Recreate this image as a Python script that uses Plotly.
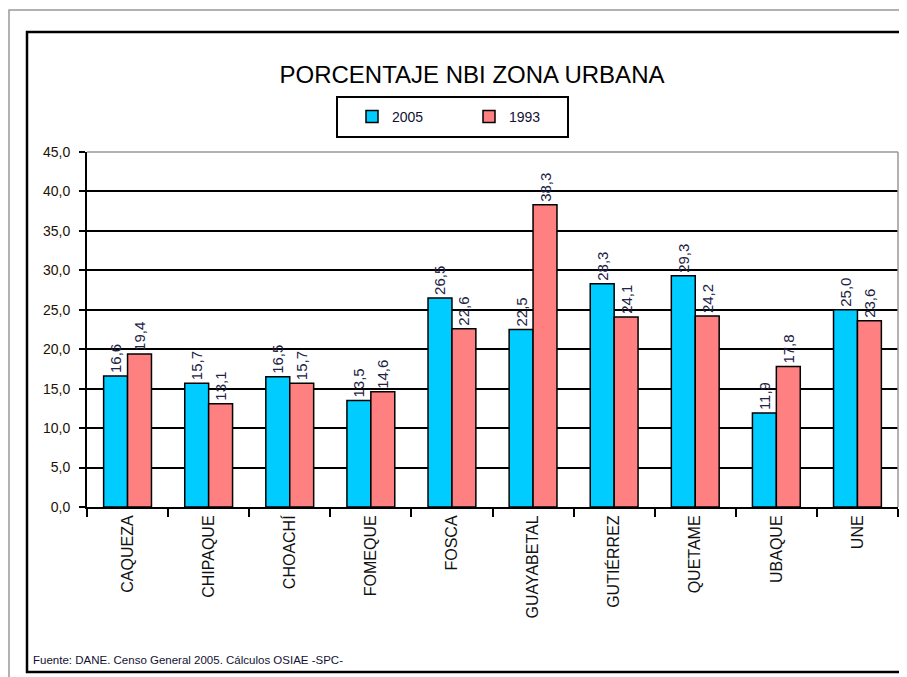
import plotly.graph_objects as go

categories = ["CAQUEZA", "CHIPAQUE", "CHOACHÍ", "FOMEQUE", "FOSCA",
              "GUAYABETAL", "GUTIÉRREZ", "QUETAME", "UBAQUE", "UNE"]
values_2005 = [16.6, 15.7, 16.5, 13.5, 26.5, 22.5, 28.3, 29.3, 11.9, 25.0]
values_1993 = [19.4, 13.1, 15.7, 14.6, 22.6, 38.3, 24.1, 24.2, 17.8, 23.6]
y_ticks = [0, 5, 10, 15, 20, 25, 30, 35, 40, 45]
y_tick_labels = ["0,0", "5,0", "10,0", "15,0", "20,0", "25,0", "30,0", "35,0", "40,0", "45,0"]

W, H = 907, 677
OFF = 8  # page body margin offset
L, R, T, B = 87 - OFF, 898 - OFF, 152 - OFF, 507 - OFF


def px(x):
    return (x - OFF - L) / (R - L)


def py(y):
    return (B - (y - OFF)) / (B - T)


def fmt(v):
    return f"{v:.1f}".replace(".", ",")


FONT = "Liberation Sans, Arial, sans-serif"

fig = go.Figure()
fig.add_trace(go.Bar(
    name="2005", x=categories, y=values_2005,
    marker=dict(color="#00CCFF", line=dict(color="black", width=1.5)),
    text=[fmt(v) for v in values_2005], textposition="outside",
    textangle=-90, textfont=dict(size=15, color="#222244", family=FONT),
    constraintext="none", cliponaxis=False,
))
fig.add_trace(go.Bar(
    name="1993", x=categories, y=values_1993,
    marker=dict(color="#FF8080", line=dict(color="black", width=1.5)),
    text=[fmt(v) for v in values_1993], textposition="outside",
    textangle=-90, textfont=dict(size=15, color="#222244", family=FONT),
    constraintext="none", cliponaxis=False,
))

shapes = [
    # outer light frame
    dict(type="rect", xref="paper", yref="paper",
         x0=px(9), x1=px(940), y0=py(10), y1=py(720),
         line=dict(color="#999999", width=1.5), layer="below"),
    # inner black frame
    dict(type="rect", xref="paper", yref="paper",
         x0=px(27), x1=px(940), y0=py(32), y1=py(672),
         line=dict(color="black", width=2.5), layer="below"),
    # legend box
    dict(type="rect", xref="paper", yref="paper",
         x0=px(337), x1=px(568), y0=py(97), y1=py(137),
         line=dict(color="black", width=2), fillcolor="white", layer="below"),
    # plot area top/right border
    dict(type="line", xref="paper", yref="paper", x0=1, x1=1, y0=0, y1=1,
         line=dict(color="#999999", width=1.5)),
    dict(type="line", xref="paper", yref="paper", x0=0, x1=1, y0=1, y1=1,
         line=dict(color="#999999", width=1.5)),
]

fig.update_layout(
    width=W, height=H,
    margin=dict(l=L, r=W - R, t=T, b=H - B),
    paper_bgcolor="white", plot_bgcolor="white",
    barmode="group", bargap=0.41, bargroupgap=0.0,
    font=dict(family=FONT, color="black"),
    title=dict(text="PORCENTAJE NBI ZONA URBANA", xref="paper", x=px(472), xanchor="center",
               yref="container", y=1 - (75 - OFF) / H, yanchor="middle",
               font=dict(size=24, color="black", family=FONT)),
    showlegend=True,
    legend=dict(orientation="h", x=px(352), xanchor="left", y=py(117), yanchor="middle",
                borderwidth=0, bgcolor="rgba(0,0,0,0)",
                font=dict(size=14, family=FONT, color="#111133"),
                entrywidth=72, itemwidth=30, traceorder="normal"),
    shapes=shapes,
    annotations=[dict(text="Fuente: DANE. Censo General 2005. Cálculos OSIAE -SPC-",
                      xref="paper", yref="paper", x=px(31), y=py(660),
                      xanchor="left", yanchor="middle", showarrow=False,
                      font=dict(size=11.5, family=FONT, color="#111133"))],
)
fig.update_yaxes(range=[0, 45], tickvals=y_ticks, ticktext=y_tick_labels,
                 showgrid=True, gridcolor="black", gridwidth=2,
                 showline=True, linecolor="black", linewidth=2,
                 ticks="outside", ticklen=6, tickcolor="black", tickwidth=2,
                 ticklabelstandoff=6,
                 tickfont=dict(size=14, family=FONT, color="#221100"),
                 zeroline=False, fixedrange=True)
fig.update_xaxes(tickangle=-90, tickson="boundaries", ticks="outside", ticklen=8,
                 tickcolor="black", tickwidth=2,
                 showline=True, linecolor="black", linewidth=2,
                 tickfont=dict(size=16, family=FONT, color="#111111"),
                 showgrid=False)

fig.write_html("out.html")
